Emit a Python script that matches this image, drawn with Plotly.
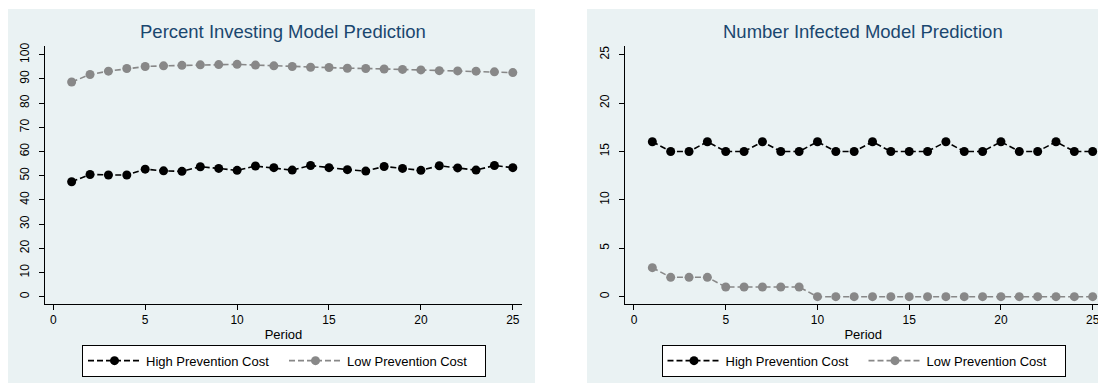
import plotly.graph_objects as go

periods = list(range(1, 26))

invest_high = [47.5, 50.5, 50.3, 50.3, 52.7, 52.0, 51.8, 53.7, 53.0, 52.2,
               54.0, 53.3, 52.3, 54.2, 53.3, 52.5, 51.9, 53.8, 53.0, 52.2,
               54.1, 53.2, 52.3, 54.2, 53.3]
invest_low = [88.7, 91.8, 93.2, 94.3, 95.1, 95.4, 95.6, 95.8, 95.9, 96.0,
              95.7, 95.4, 95.1, 94.8, 94.7, 94.4, 94.3, 94.1, 93.9, 93.7,
              93.4, 93.3, 93.2, 92.9, 92.6]

infected_high = [16, 15, 15, 16, 15, 15, 16, 15, 15, 16, 15, 15, 16, 15, 15,
                 15, 16, 15, 15, 16, 15, 15, 16, 15, 15]
infected_low = [3, 2, 2, 2, 1, 1, 1, 1, 1, 0, 0, 0, 0, 0, 0, 0, 0, 0, 0, 0,
                0, 0, 0, 0, 0]

series_names = ["High Prevention Cost", "Low Prevention Cost"]
titles = ["Percent Investing Model Prediction", "Number Infected Model Prediction"]
x_ticks = [0, 5, 10, 15, 20, 25]
y_ticks_left = list(range(0, 101, 10))
y_ticks_right = [0, 5, 10, 15, 20, 25]

OFF = 8  # page body margin
W, H = 1106 - OFF, 385 - OFF
BG = "#EAF2F3"
TITLE_C = "#1A476F"
FONT = "Liberation Sans, Arial, sans-serif"
HIGH_C = "#000000"
LOW_C = "#888888"

fig = go.Figure()

def add_series(x, y, name, color, xa, ya, legend):
    fig.add_trace(go.Scatter(
        x=x, y=y, name=name, mode="lines+markers",
        line=dict(color=color, width=1.6, dash="6px,3px"),
        marker=dict(color=color, size=9, symbol="circle"),
        xaxis=xa, yaxis=ya, legend=legend, showlegend=True,
    ))

add_series(periods, invest_high, series_names[0], HIGH_C, "x", "y", "legend")
add_series(periods, invest_low, series_names[1], LOW_C, "x", "y", "legend")
add_series(periods, infected_high, series_names[0], HIGH_C, "x2", "y2", "legend2")
add_series(periods, infected_low, series_names[1], LOW_C, "x2", "y2", "legend2")

def px_x(p):
    return (p - OFF) / W

def px_y(p):
    return 1 - (p - OFF) / H

# panel backgrounds
for x0, x1 in [(6, 535), (587, 1110)]:
    fig.add_shape(type="rect", xref="paper", yref="paper",
                  x0=px_x(x0), x1=px_x(x1), y0=px_y(383), y1=px_y(6),
                  fillcolor=BG, line=dict(width=0), layer="below")

ydom = [px_y(303.3), px_y(43)]
xdom1 = [px_x(45), px_x(522)]
xdom2 = [px_x(625), px_x(1101.5)]

axis_common = dict(
    showline=True, linecolor="#000000", linewidth=1,
    ticks="outside", ticklen=5, tickwidth=1, tickcolor="#000000",
    tickfont=dict(family=FONT, size=12, color="#000000"),
    zeroline=False, mirror=False,
)

legend_common = dict(
    orientation="h", y=px_y(360.5), yanchor="middle",
    bgcolor="white", bordercolor="#000000", borderwidth=1,
    font=dict(family=FONT, size=13, color="#000000"),
    itemwidth=53, entrywidth=133, tracegroupgap=0,
)

fig.update_layout(
    width=W, height=H,
    margin=dict(l=0, r=0, t=0, b=0),
    paper_bgcolor="white", plot_bgcolor="white",
    font=dict(family=FONT, size=12, color="#000000"),
    xaxis=dict(domain=xdom1, range=[-0.45, 25.5], tickvals=x_ticks,
               showgrid=False, anchor="y",
               title=dict(text="Period", font=dict(size=13), standoff=3),
               **axis_common),
    yaxis=dict(domain=ydom, range=[-3.0, 103.7], tickvals=y_ticks_left,
               showgrid=True, gridcolor=BG, gridwidth=1, tickangle=-90,
               ticklabelstandoff=5, anchor="x", **axis_common),
    xaxis2=dict(domain=xdom2, range=[-0.49, 25.48], tickvals=x_ticks,
                showgrid=False, anchor="y2",
                title=dict(text="Period", font=dict(size=13), standoff=3),
                **axis_common),
    yaxis2=dict(domain=ydom, range=[-0.75, 25.92], tickvals=y_ticks_right,
                showgrid=True, gridcolor=BG, gridwidth=1, tickangle=-90,
                ticklabelstandoff=5, anchor="x2", **axis_common),
    legend=dict(x=px_x(284), xanchor="center", **legend_common),
    legend2=dict(x=px_x(863.5), xanchor="center", **legend_common),
    annotations=[
        dict(text=titles[0], xref="paper", yref="paper",
             x=(xdom1[0] + xdom1[1]) / 2, y=px_y(29), xanchor="center",
             yanchor="middle", showarrow=False,
             font=dict(family=FONT, size=18.5, color=TITLE_C)),
        dict(text=titles[1], xref="paper", yref="paper",
             x=(xdom2[0] + xdom2[1]) / 2, y=px_y(29), xanchor="center",
             yanchor="middle", showarrow=False,
             font=dict(family=FONT, size=18.5, color=TITLE_C)),
    ],
)

fig.write_html("out.html")
